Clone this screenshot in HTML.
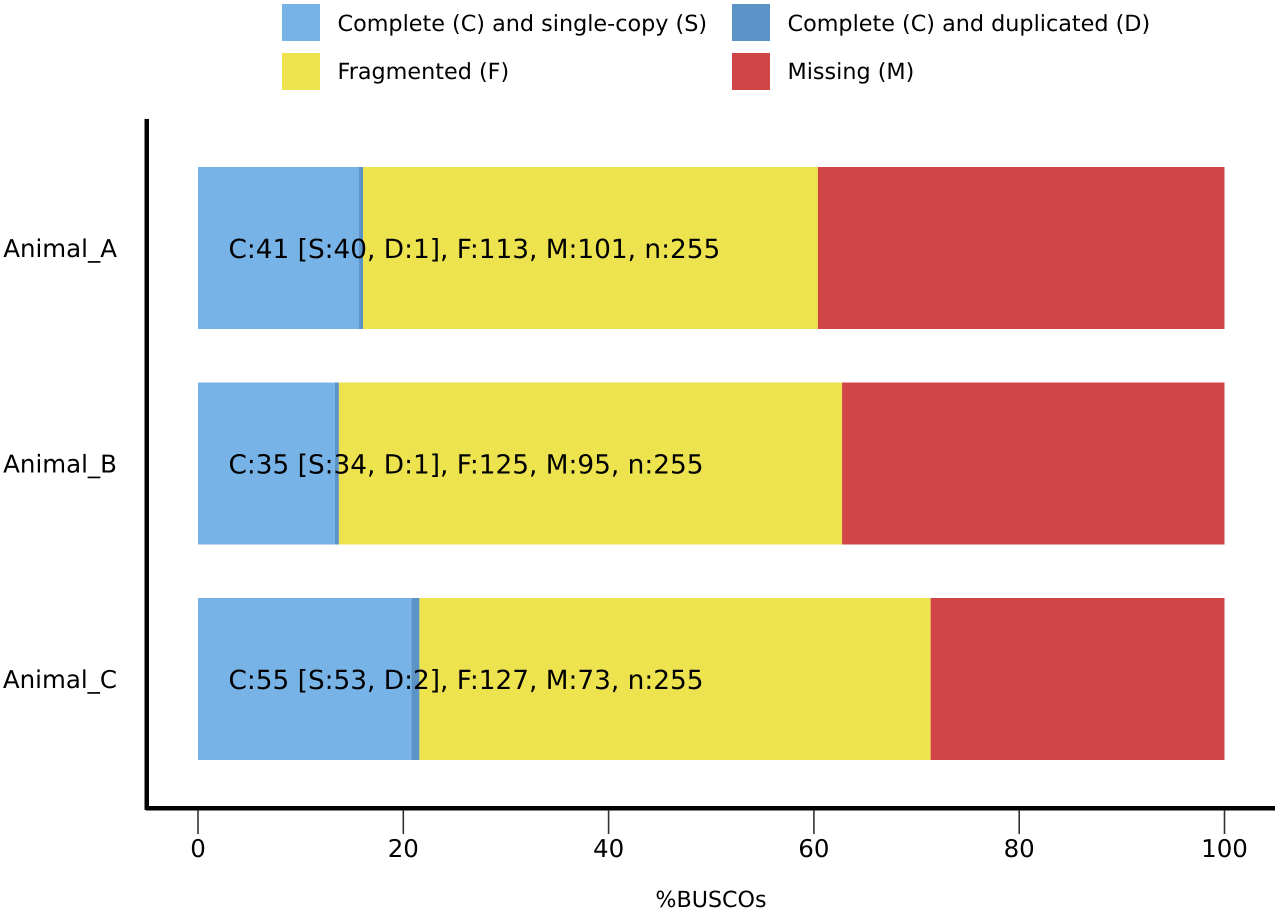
<!DOCTYPE html>
<html>
<head>
<meta charset="utf-8">
<style>
html,body{margin:0;padding:0;background:#fff;width:1279px;height:911px;overflow:hidden}
svg{display:block}
text{font-family:"DejaVu Sans","Liberation Sans",sans-serif;fill:#000;text-rendering:geometricPrecision}
</style>
</head>
<body>
<svg id="chart" width="1279" height="911" viewBox="0 0 1279 911" xmlns="http://www.w3.org/2000/svg"></svg>
<script>
const categories = ['Animal_A', 'Animal_B', 'Animal_C'];
const single = [40, 34, 53];
const duplicated = [1, 1, 2];
const fragmented = [113, 125, 127];
const missing = [101, 95, 73];
const totals = [255, 255, 255];
const ticks = [0, 20, 40, 60, 80, 100];
const legendLabels = ['Complete (C) and single-copy (S)', 'Complete (C) and duplicated (D)', 'Fragmented (F)', 'Missing (M)'];
const colors = ['#78b3e7', '#5b93c7', '#ece34f', '#d04545'];

const svg = document.getElementById('chart');
const NS = 'http://www.w3.org/2000/svg';
const x = v => 198 + v * (1224.5 - 198) / 100;
const yCenter = i => 248 + i * 215.5;
const barH = 162;

function add(tag, attrs, parent) {
  const el = document.createElementNS(NS, tag);
  for (const k in attrs) el.setAttribute(k, attrs[k]);
  (parent || svg).appendChild(el);
  return el;
}

// bars
categories.forEach((cat, i) => {
  const n = totals[i];
  const vals = [single[i], duplicated[i], fragmented[i], missing[i]];
  const g = add('g', {});
  
  
  let acc = 0;
  const segNames = ['single-copy', 'duplicated', 'fragmented', 'missing'];
  vals.forEach((v, j) => {
    const p0 = acc / n * 100;
    const p1 = (acc + v) / n * 100;
    const r = add('rect', {x: x(p0), y: yCenter(i) - barH / 2, width: x(p1) - x(p0), height: barH, fill: colors[j]}, g);
    
    
    acc += v;
  });
  const lab = add('text', {x: 228.5, y: yCenter(i) + 10, 'font-size': 26.35}, g);
  lab.textContent = 'C:' + (single[i] + duplicated[i]) + ' [S:' + single[i] + ', D:' + duplicated[i] + '], F:' + fragmented[i] + ', M:' + missing[i] + ', n:' + n;
  
  
  const cl = add('text', {x: 117, y: yCenter(i) + 9, 'font-size': 24.5, 'text-anchor': 'end'}, g);
  cl.textContent = cat;
  
  
});

// axes
const yAxis = add('rect', {x: 144.5, y: 119, width: 4.5, height: 691, fill: '#000'});


const xAxis = add('rect', {x: 146, y: 806, width: 1129, height: 4.5, fill: '#000'});



ticks.forEach(t => {
  const l = add('line', {x1: x(t), x2: x(t), y1: 810, y2: 834, stroke: '#333', 'stroke-width': 1.6});
  
  
  const tx = add('text', {x: x(t), y: 857, 'font-size': 24.5, 'text-anchor': 'middle'});
  tx.textContent = t;
  
  
});

const title = add('text', {x: 711, y: 907, 'font-size': 22.2, 'text-anchor': 'middle'});
title.textContent = '%BUSCOs';



// legend
const legendX = [282, 732];
const legendY = [4, 53];
const legendTextBase = [31, 79];
const legendOrder = [0, 1, 2, 3];
legendOrder.forEach(idx => {
  const col = idx % 2, row = Math.floor(idx / 2);
  const g = add('g', {});
  
  
  const sw = add('rect', {x: legendX[col], y: legendY[row], width: 38, height: 37, fill: colors[idx]}, g);
  
  
  const tx = add('text', {x: legendX[col] + 55.5, y: legendTextBase[row], 'font-size': 22.3}, g);
  tx.textContent = legendLabels[idx];
  
  
});
</script>
</body>
</html>
